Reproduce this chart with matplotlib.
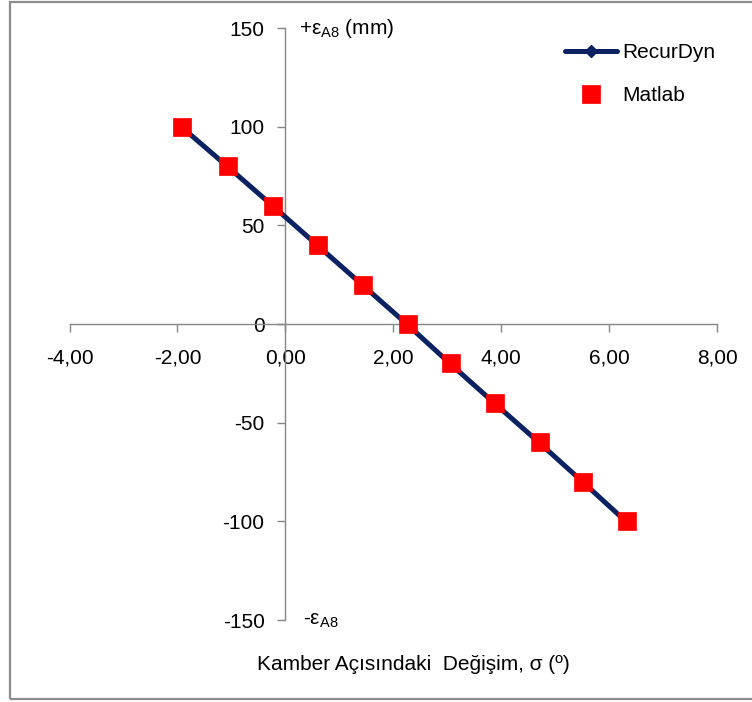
import matplotlib.pyplot as plt
from matplotlib.patches import Rectangle

# verileri
recurdyn_x = [-1.93, -1.08, -0.24, 0.59, 1.42, 2.25, 3.05, 3.87, 4.70, 5.51, 6.31]
recurdyn_y = [100, 80, 60, 40, 20, 0, -20, -40, -60, -80, -100]
matlab_x = [-1.91, -1.06, -0.22, 0.61, 1.44, 2.27, 3.07, 3.89, 4.72, 5.52, 6.33]
matlab_y = [100, 80, 60, 40, 20, 0, -20, -40, -60, -80, -100]

x_ticks = [-4, -2, 0, 2, 4, 6, 8]
x_labels = ['-4,00', '-2,00', '0,00', '2,00', '4,00', '6,00', '8,00']
y_ticks = [-150, -100, -50, 0, 50, 100, 150]

plt.rcParams['font.family'] = ['Liberation Sans', 'DejaVu Sans']
plt.rcParams['mathtext.default'] = 'regular'
plt.rcParams['axes.unicode_minus'] = False

fs = 15

fig = plt.figure(figsize=(7.52, 7.02), dpi=100)
ax = fig.add_axes([69.5 / 752, 82 / 702, 647.5 / 752, 592 / 702])

grey = '#868686'
navy = '#0B2161'

ax.plot(recurdyn_x, recurdyn_y, color=navy, lw=3.6, marker='D', ms=6,
        solid_capstyle='round', label='RecurDyn', zorder=3)
ax.plot(matlab_x, matlab_y, ls='none', marker='s', ms=13, color='#FF0000',
        mec='#FF0000', mew=0.5, label='Matlab', zorder=4)

ax.set_xlim(-4, 8)
ax.set_ylim(-150, 150)

#eksenler sifirdan gecsin
ax.spines['left'].set_position(('data', 0))
ax.spines['bottom'].set_position(('data', 0))
ax.spines['right'].set_visible(False)
ax.spines['top'].set_visible(False)
for s in ['left', 'bottom']:
    ax.spines[s].set_color(grey)
    ax.spines[s].set_linewidth(1.0)

ax.set_xticks(x_ticks)
ax.set_xticklabels(x_labels)
ax.set_yticks(y_ticks)
ax.tick_params(axis='both', colors=grey, labelcolor='black', labelsize=fs,
               length=6, width=1.0, direction='out')
ax.tick_params(axis='x', pad=12)
ax.tick_params(axis='y', pad=9)

ax.annotate('+ε$_{A8}$ (mm)', xy=(0, 150), xytext=(10, 0),
            textcoords='offset points', ha='left', va='center', fontsize=fs)
ax.annotate('-ε$_{A8}$', xy=(0, -150), xytext=(13, 0),
            textcoords='offset points', ha='left', va='center', fontsize=fs)

fig.text(413 / 752, 1 - 665 / 702, 'Kamber Açısındaki  Değişim, σ (º)',
         ha='center', va='center', fontsize=fs)

leg = ax.legend(loc='upper left', bbox_to_anchor=(565 / 752, 1 - 43 / 702),
                bbox_transform=fig.transFigure, frameon=False, fontsize=fs,
                handlelength=2.5, handletextpad=0.25, labelspacing=1.15,
                borderpad=0, borderaxespad=0)

#dis cerceve
fig.patches.append(Rectangle((10 / 752, 3 / 702), 760 / 752, 697 / 702,
                             transform=fig.transFigure, fill=False,
                             edgecolor='#8C8C8C', lw=1.6))

fig.savefig('out.png', dpi=100)
